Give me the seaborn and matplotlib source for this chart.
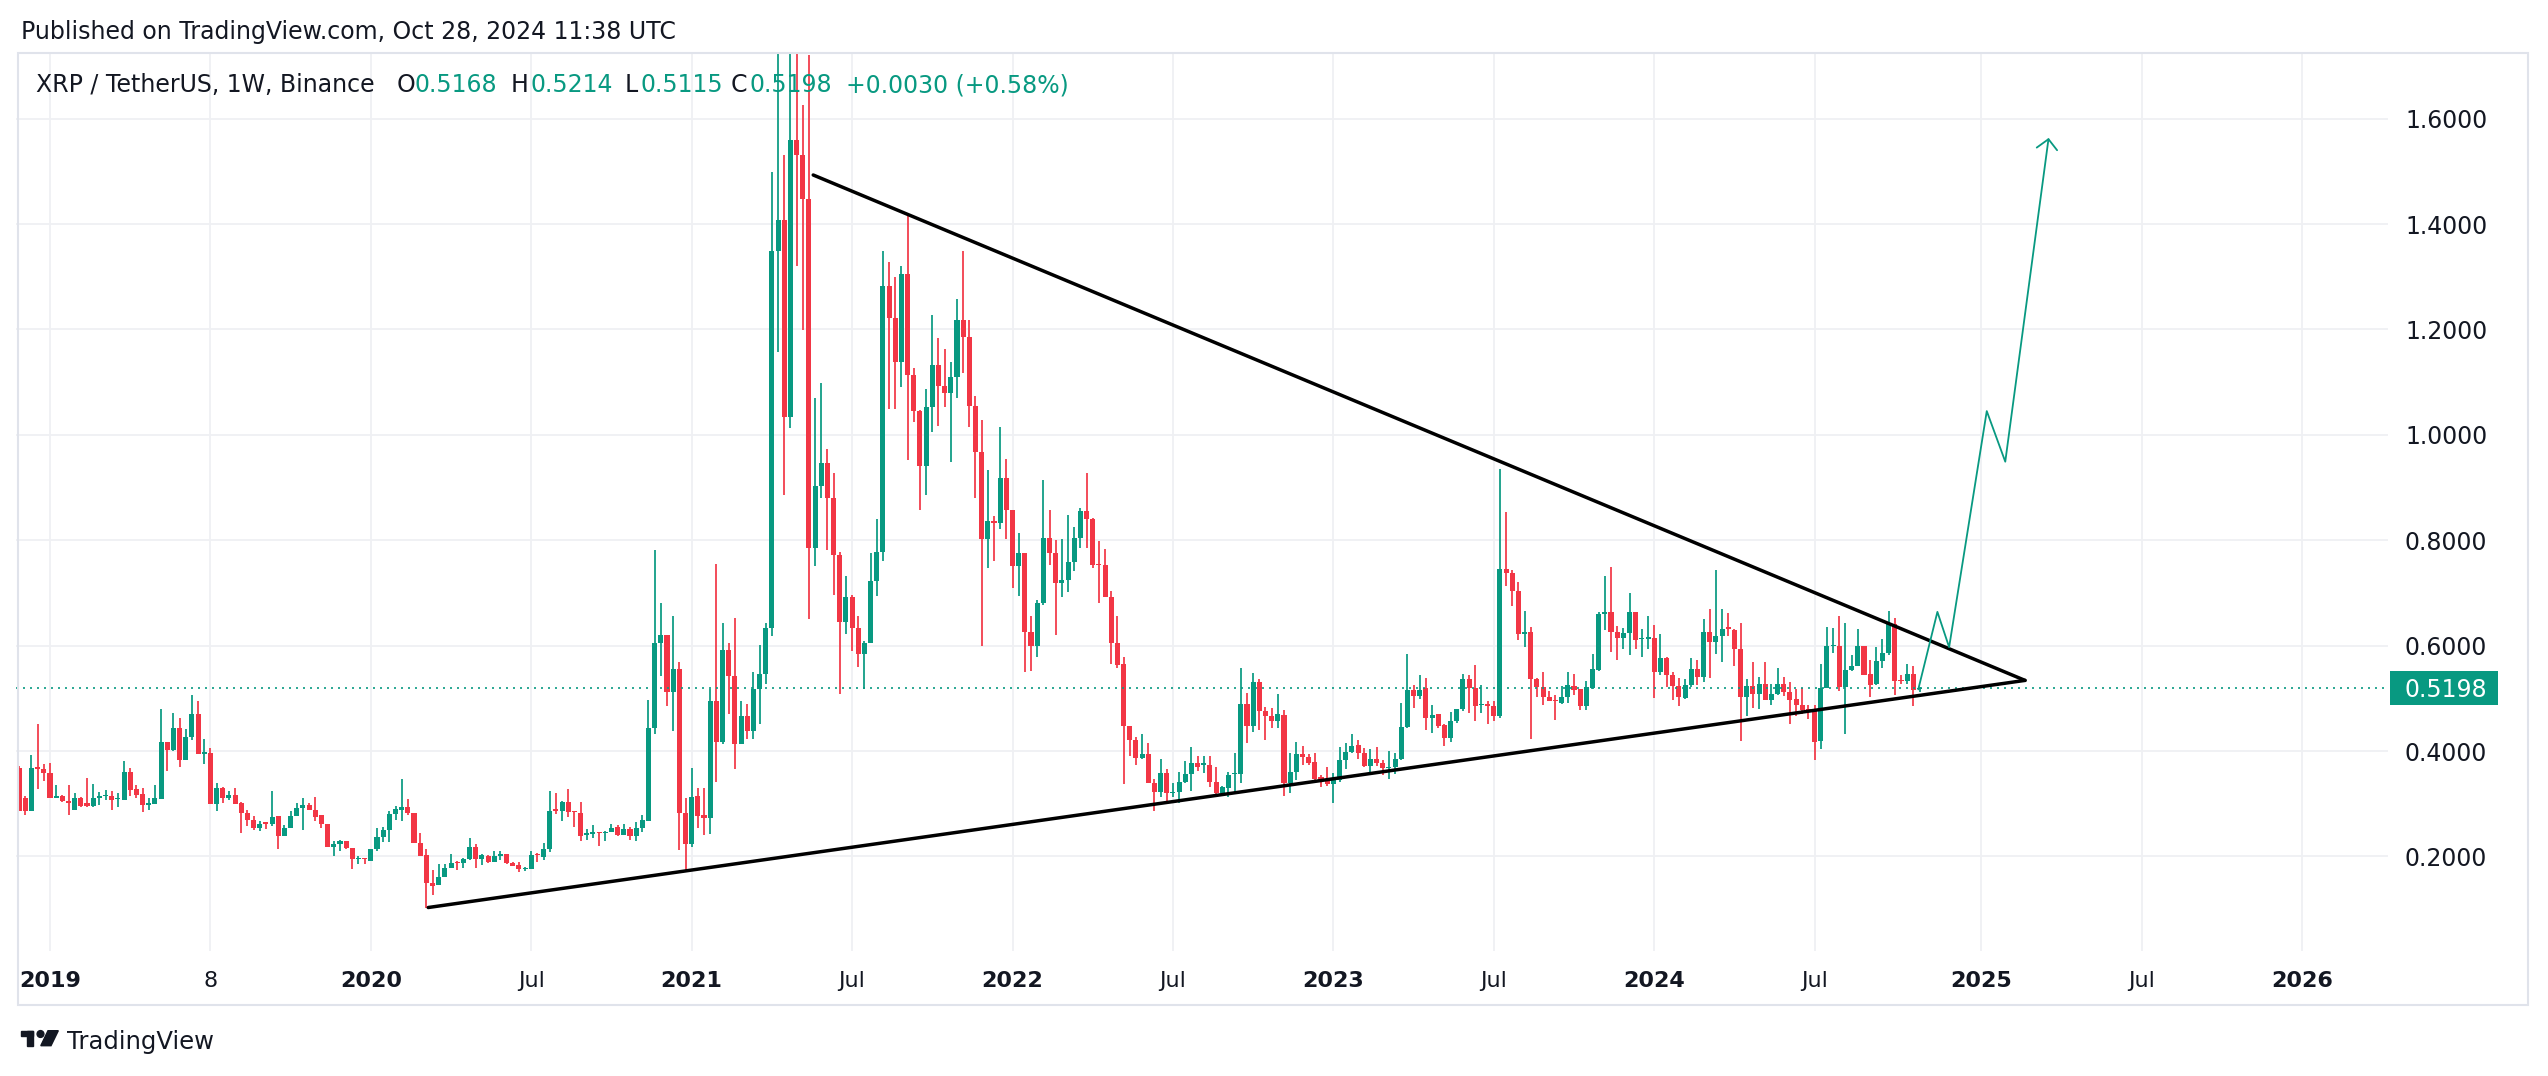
import numpy as np
import pandas as pd
import matplotlib
matplotlib.use("Agg")
import matplotlib.pyplot as plt
from matplotlib.patches import Rectangle, Ellipse, Polygon
from matplotlib.transforms import blended_transform_factory
import seaborn as sns

# ---------------- data: XRP/USDT weekly candles (Binance), week of 2018-11-26 .. 2024-10-28
week_start = pd.date_range("2018-11-26", periods=309, freq="W-MON")

open_ = [
    .368, .310, .286, .369, .365, .359, .310, .315, .306, .288,
    .310, .302, .295, .310, .314, .315, .308, .307, .361, .327,
    .319, .297, .300, .309, .417, .402, .443, .383, .427, .470,
    .395, .396, .300, .330, .310, .317, .302, .283, .270, .253,
    .263, .262, .276, .238, .254, .276, .292, .297, .289, .278,
    .262, .217, .224, .229, .216, .195, .197, .192, .214, .236,
    .250, .281, .289, .293, .283, .225, .203, .150, .145, .160,
    .178, .189, .187, .196, .218, .196, .200, .190, .200, .204,
    .188, .184, .176, .177, .205, .199, .214, .289, .286, .304,
    .287, .283, .240, .243, .246, .244, .246, .256, .240, .252,
    .239, .253, .268, .444, .604, .621, .512, .555, .283, .223,
    .314, .278, .273, .494, .417, .591, .543, .413, .466, .438,
    .517, .546, .633, 1.349, 1.407, 1.033, 1.559, 1.531, 1.447, .786,
    .902, .946, .880, .771, .645, .693, .633, .584, .604, .723,
    .778, 1.282, 1.222, 1.138, 1.306, 1.114, 1.046, .941, 1.053, 1.133,
    1.093, 1.079, 1.109, 1.218, 1.186, 1.055, .967, .802, .837, .833,
    .918, .857, .751, .775, .626, .599, .680, .804, .775, .718,
    .725, .759, .804, .855, .840, .754, .753, .693, .604, .565,
    .448, .421, .386, .395, .340, .323, .358, .320, .323, .341,
    .357, .377, .374, .374, .342, .320, .329, .356, .356, .490,
    .447, .531, .475, .467, .456, .469, .339, .360, .395, .388,
    .380, .350, .346, .338, .345, .383, .398, .412, .396, .372,
    .384, .377, .367, .369, .385, .445, .516, .504, .520, .463,
    .470, .449, .425, .456, .480, .536, .520, .487, .490, .485,
    .466, .746, .737, .704, .622, .625, .537, .522, .503, .495,
    .492, .503, .523, .517, .485, .520, .554, .660, .663, .625,
    .615, .623, .663, .612, .613, .615, .550, .576, .545, .524,
    .501, .525, .556, .540, .626, .607, .618, .634, .629, .594,
    .503, .524, .509, .528, .497, .509, .528, .512, .498, .488,
    .479, .478, .419, .520, .599, .600, .521, .553, .561, .600,
    .547, .528, .571, .586, .641, .535, .533, .547, .5168,
]
high = [
    .371, .314, .392, .451, .375, .378, .335, .317, .335, .321,
    .312, .348, .338, .322, .326, .324, .321, .381, .368, .336,
    .330, .310, .336, .479, .417, .473, .463, .441, .506, .495,
    .422, .406, .340, .332, .324, .330, .304, .289, .276, .267,
    .263, .325, .276, .260, .286, .301, .311, .302, .313, .279,
    .262, .230, .232, .229, .216, .200, .197, .214, .254, .256,
    .286, .295, .346, .308, .283, .244, .214, .175, .186, .186,
    .204, .192, .197, .235, .224, .205, .203, .211, .211, .204,
    .190, .190, .180, .211, .207, .225, .325, .320, .306, .327,
    .287, .304, .252, .259, .246, .249, .261, .259, .261, .256,
    .266, .278, .496, .781, .680, .621, .657, .568, .310, .368,
    .329, .329, .518, .754, .642, .604, .652, .494, .490, .549,
    .601, .642, 1.498, 1.96, 1.531, 1.96, 1.85, 1.625, 1.72, 1.069,
    1.098, .973, .928, .778, .733, .696, .656, .608, .776, .840,
    1.348, 1.327, 1.300, 1.320, 1.418, 1.127, 1.047, 1.087, 1.228, 1.184,
    1.162, 1.138, 1.257, 1.348, 1.218, 1.073, 1.028, .933, .846, 1.015,
    .954, .857, .813, .776, .656, .686, .914, .857, .800, .802,
    .848, .826, .862, .928, .842, .798, .784, .704, .656, .578,
    .448, .426, .432, .415, .347, .384, .365, .339, .360, .381,
    .407, .391, .391, .391, .369, .334, .360, .397, .558, .510,
    .548, .537, .483, .482, .509, .478, .397, .418, .410, .394,
    .397, .355, .370, .358, .407, .415, .432, .421, .405, .403,
    .407, .383, .400, .397, .491, .585, .525, .545, .538, .487,
    .470, .451, .474, .480, .547, .544, .563, .525, .495, .494,
    .936, .854, .743, .720, .665, .636, .539, .549, .514, .506,
    .523, .549, .547, .518, .532, .585, .663, .732, .749, .637,
    .634, .699, .663, .631, .656, .640, .622, .579, .550, .539,
    .537, .577, .573, .650, .669, .743, .670, .662, .632, .642,
    .537, .569, .541, .569, .528, .557, .540, .531, .518, .519,
    .487, .487, .566, .636, .633, .657, .642, .583, .631, .600,
    .572, .598, .612, .665, .653, .545, .566, .561, .5214,
]
low = [
    .286, .279, .286, .327, .343, .310, .310, .303, .279, .288,
    .293, .294, .294, .297, .307, .289, .293, .307, .314, .311,
    .284, .289, .300, .309, .362, .400, .370, .383, .421, .395,
    .375, .300, .286, .302, .307, .300, .244, .258, .251, .249,
    .252, .258, .214, .238, .254, .276, .250, .288, .267, .254,
    .217, .200, .210, .214, .176, .185, .186, .192, .210, .228,
    .227, .270, .267, .279, .225, .200, .102, .127, .145, .160,
    .178, .174, .178, .194, .178, .183, .188, .190, .194, .186,
    .181, .171, .173, .177, .189, .193, .208, .280, .267, .275,
    .256, .229, .231, .235, .220, .229, .246, .239, .240, .231,
    .229, .246, .267, .432, .542, .485, .438, .212, .174, .218,
    .254, .240, .243, .341, .413, .471, .365, .413, .422, .422,
    .452, .527, .619, 1.158, .885, 1.013, 1.320, 1.198, .650, .752,
    .880, .782, .696, .509, .622, .589, .560, .517, .604, .695,
    .760, 1.049, 1.049, 1.090, .953, 1.024, .857, .885, 1.005, 1.016,
    1.053, .948, 1.069, 1.117, 1.015, .880, .600, .748, .760, .822,
    .802, .709, .695, .550, .551, .579, .677, .753, .621, .693,
    .702, .741, .786, .786, .748, .680, .693, .566, .557, .337,
    .390, .374, .384, .339, .287, .313, .304, .312, .301, .339,
    .325, .363, .358, .331, .318, .317, .312, .321, .340, .416,
    .437, .439, .421, .443, .443, .315, .321, .345, .374, .374,
    .345, .331, .334, .301, .342, .366, .396, .385, .370, .361,
    .372, .355, .346, .357, .383, .443, .482, .499, .440, .435,
    .444, .409, .417, .454, .476, .473, .457, .473, .451, .457,
    .463, .713, .675, .611, .597, .422, .502, .487, .494, .459,
    .490, .492, .506, .478, .478, .518, .551, .629, .587, .573,
    .594, .582, .594, .579, .593, .500, .545, .522, .497, .485,
    .498, .522, .525, .530, .539, .585, .569, .618, .562, .419,
    .466, .482, .479, .497, .487, .507, .505, .451, .466, .470,
    .460, .383, .404, .519, .586, .514, .432, .552, .561, .545,
    .503, .525, .558, .583, .506, .528, .528, .485, .5115,
]
close = [
    .286, .286, .367, .365, .359, .310, .315, .305, .302, .310,
    .295, .295, .310, .314, .317, .307, .310, .361, .326, .317,
    .297, .302, .310, .417, .402, .443, .383, .427, .470, .395,
    .398, .300, .330, .310, .317, .300, .283, .270, .253, .262,
    .262, .275, .238, .254, .277, .292, .297, .288, .275, .262,
    .217, .224, .229, .216, .195, .197, .195, .214, .236, .251,
    .281, .290, .293, .283, .225, .201, .150, .144, .160, .178,
    .187, .187, .196, .218, .196, .202, .190, .200, .205, .188,
    .182, .176, .178, .202, .202, .214, .287, .287, .304, .284,
    .284, .239, .244, .245, .244, .247, .254, .240, .252, .239,
    .253, .270, .444, .604, .621, .512, .555, .283, .223, .313,
    .277, .273, .494, .417, .591, .542, .413, .466, .438, .517,
    .546, .634, 1.349, 1.407, 1.033, 1.559, 1.531, 1.447, .786, .902,
    .946, .880, .771, .645, .693, .633, .584, .604, .723, .778,
    1.282, 1.222, 1.138, 1.306, 1.114, 1.046, .941, 1.053, 1.133, 1.093,
    1.079, 1.109, 1.218, 1.186, 1.055, .967, .802, .837, .833, .918,
    .857, .751, .775, .626, .599, .680, .804, .775, .718, .725,
    .759, .804, .855, .840, .753, .753, .693, .604, .564, .447,
    .420, .386, .395, .340, .323, .358, .320, .323, .341, .357,
    .377, .370, .375, .342, .320, .331, .355, .358, .490, .447,
    .531, .475, .466, .456, .471, .339, .360, .395, .388, .378,
    .347, .344, .338, .345, .383, .398, .410, .396, .372, .384,
    .377, .367, .369, .385, .445, .516, .504, .516, .463, .468,
    .447, .425, .456, .480, .536, .520, .485, .490, .485, .466,
    .746, .737, .704, .622, .625, .537, .522, .503, .495, .494,
    .503, .525, .516, .485, .522, .555, .660, .663, .625, .615,
    .623, .663, .610, .613, .617, .550, .576, .544, .523, .503,
    .525, .556, .540, .626, .607, .618, .632, .632, .594, .503,
    .524, .509, .528, .497, .509, .528, .512, .497, .487, .478,
    .476, .417, .520, .599, .602, .521, .553, .562, .600, .545,
    .526, .571, .586, .641, .533, .533, .547, .516, .5198,
]

# drawings (bar index, price)
upper_trend_x = [128.7, 325.1]
upper_trend_y = [1.493, 0.534]
lower_trend_x = [66.3, 325.1]
lower_trend_y = [0.103, 0.534]
proj_x = [307.8, 310.9, 312.8, 318.9, 321.9, 328.9]
proj_y = [0.517, 0.664, 0.597, 1.045, 0.949, 1.561]
arrow_x = [327.0, 328.9, 330.3]
arrow_y = [1.545, 1.561, 1.540]

price_ticks = [0.2, 0.4, 0.6, 0.8, 1.0, 1.2, 1.4, 1.6]
time_tick_bars = [5, 31, 57, 83, 109, 135, 161, 187, 213, 239, 265, 291, 318, 344, 370]
time_tick_labels = ["2019", "8", "2020", "Jul", "2021", "Jul", "2022", "Jul",
                    "2023", "Jul", "2024", "Jul", "2025", "Jul", "2026"]
last_price = 0.5198

# ---------------- style
GREEN = "#089981"
RED = "#F23645"
TXT = "#131722"
GRID = "#eff0f3"

sns.set_style("white")
plt.rcParams["font.family"] = ["DejaVu Sans"]

W, H = 2548, 1076
fig = plt.figure(figsize=(W / 100, H / 100), dpi=100)
fig.patch.set_facecolor("white")

L_, R_, T_, B_ = 16, 2388, 53, 951
ax = fig.add_axes([L_ / W, (H - B_) / H, (R_ - L_) / W, (B_ - T_) / H])
ax.set_facecolor("white")

df = pd.DataFrame({"date": week_start, "open": open_, "high": high,
                   "low": low, "close": close})
df["bar"] = np.arange(len(df))
up = df["close"] >= df["open"]
cols = np.where(up, GREEN, RED)
body_bot = np.minimum(df["open"], df["close"])
body_h = np.maximum((df["close"] - df["open"]).abs(), 0.0025)

ax.vlines(df["bar"], df["low"], df["high"], colors=cols, lw=1.25, zorder=2)
ax.bar(df["bar"], body_h, bottom=body_bot, width=0.82, color=cols, lw=0, zorder=3)

# trend lines and projection
sns.lineplot(x=upper_trend_x, y=upper_trend_y, ax=ax, color="black", lw=2.5,
             sort=False, zorder=6, solid_capstyle="round")
sns.lineplot(x=lower_trend_x, y=lower_trend_y, ax=ax, color="black", lw=2.5,
             sort=False, zorder=6, solid_capstyle="round")
sns.lineplot(x=proj_x, y=proj_y, ax=ax, color=GREEN, lw=1.3, sort=False, zorder=7)
sns.lineplot(x=arrow_x, y=arrow_y, ax=ax, color=GREEN, lw=1.3, sort=False, zorder=7)

ax.axhline(last_price, color=GREEN, lw=1.2, ls=(0, (1.2, 3.0)), zorder=5)

ax.set_xlim(-0.51, 383.93)
ax.set_ylim(0.0205, 1.7245)
ax.set_yticks(price_ticks)
ax.set_yticklabels([f"{v:.4f}" for v in price_ticks])
ax.yaxis.tick_right()
ax.tick_params(axis="y", length=0, pad=12.2, labelsize=17, labelcolor=TXT)
ax.set_xticks(time_tick_bars)
ax.set_xticklabels(time_tick_labels)
ax.tick_params(axis="x", length=0, pad=14.5, labelsize=16, labelcolor=TXT)
for lbl in ax.get_xticklabels():
    if lbl.get_text().startswith("20"):
        lbl.set_fontweight("bold")
ax.grid(True, color=GRID, lw=1.3)
ax.set_axisbelow(True)
for s in ax.spines.values():
    s.set_visible(False)
ax.set_xlabel("")
ax.set_ylabel("")

# last price label on the scale
btr = blended_transform_factory(ax.transAxes, ax.transData)
ax.add_patch(Rectangle(((2390 - L_) / (R_ - L_), last_price - 0.032),
                       (2498 - 2390) / (R_ - L_), 0.064, transform=btr,
                       facecolor=GREEN, edgecolor="none", clip_on=False, zorder=10))
ax.text((2405 - L_) / (R_ - L_), last_price, f"{last_price:.4f}", transform=btr,
        ha="left", va="center_baseline", color="white", fontsize=17,
        clip_on=False, zorder=11)

# widget border
fig.patches.append(Rectangle((18 / W, (H - 1005) / H), (2528 - 18) / W, (1005 - 53) / H,
                             transform=fig.transFigure, fill=False,
                             edgecolor="#e0e3eb", lw=1.5))


def ftxt(x, y, s, color=TXT, size=17, weight="normal"):
    fig.text(x / W, 1 - y / H, s, ha="left", va="center_baseline",
             color=color, fontsize=size, fontweight=weight)


ftxt(21, 29, "Published on TradingView.com, Oct 28, 2024 11:38 UTC", size=17)
ftxt(36.5, 83, "XRP / TetherUS, 1W, Binance", size=17)
for lx, lab, vx, val in [(396.5, "O", 414, "0.5168"), (511, "H", 530, "0.5214"),
                         (624.6, "L", 640, "0.5115"), (731, "C", 749.5, "0.5198")]:
    ftxt(lx, 83, lab, size=17)
    ftxt(vx, 83, val, color=GREEN, size=17)
ftxt(845.6, 83, "+0.0030 (+0.58%)", color=GREEN, size=17)

# TradingView logo
def fx(x):
    return x / W


def fy(y):
    return 1 - y / H


logo_col = "#131722"
fig.patches.append(Rectangle((fx(20.7), fy(1035.7)), 12.6 / W, 5 / H,
                             transform=fig.transFigure, color=logo_col))
fig.patches.append(Rectangle((fx(26.7), fy(1045.7)), 6.6 / W, 15 / H,
                             transform=fig.transFigure, color=logo_col))
fig.patches.append(Ellipse((fx(40.5), fy(1034.0)), 6.8 / W, 6.8 / H,
                           transform=fig.transFigure, color=logo_col))
fig.patches.append(Polygon([(fx(48.0), fy(1030.7)), (fx(58.3), fy(1030.7)),
                            (fx(51.0), fy(1045.7)), (fx(40.8), fy(1045.7))],
                           closed=True, transform=fig.transFigure, color=logo_col))
ftxt(66.7, 1040, "TradingView", size=17.5)

fig.savefig("out.png", dpi=100, facecolor="white")
